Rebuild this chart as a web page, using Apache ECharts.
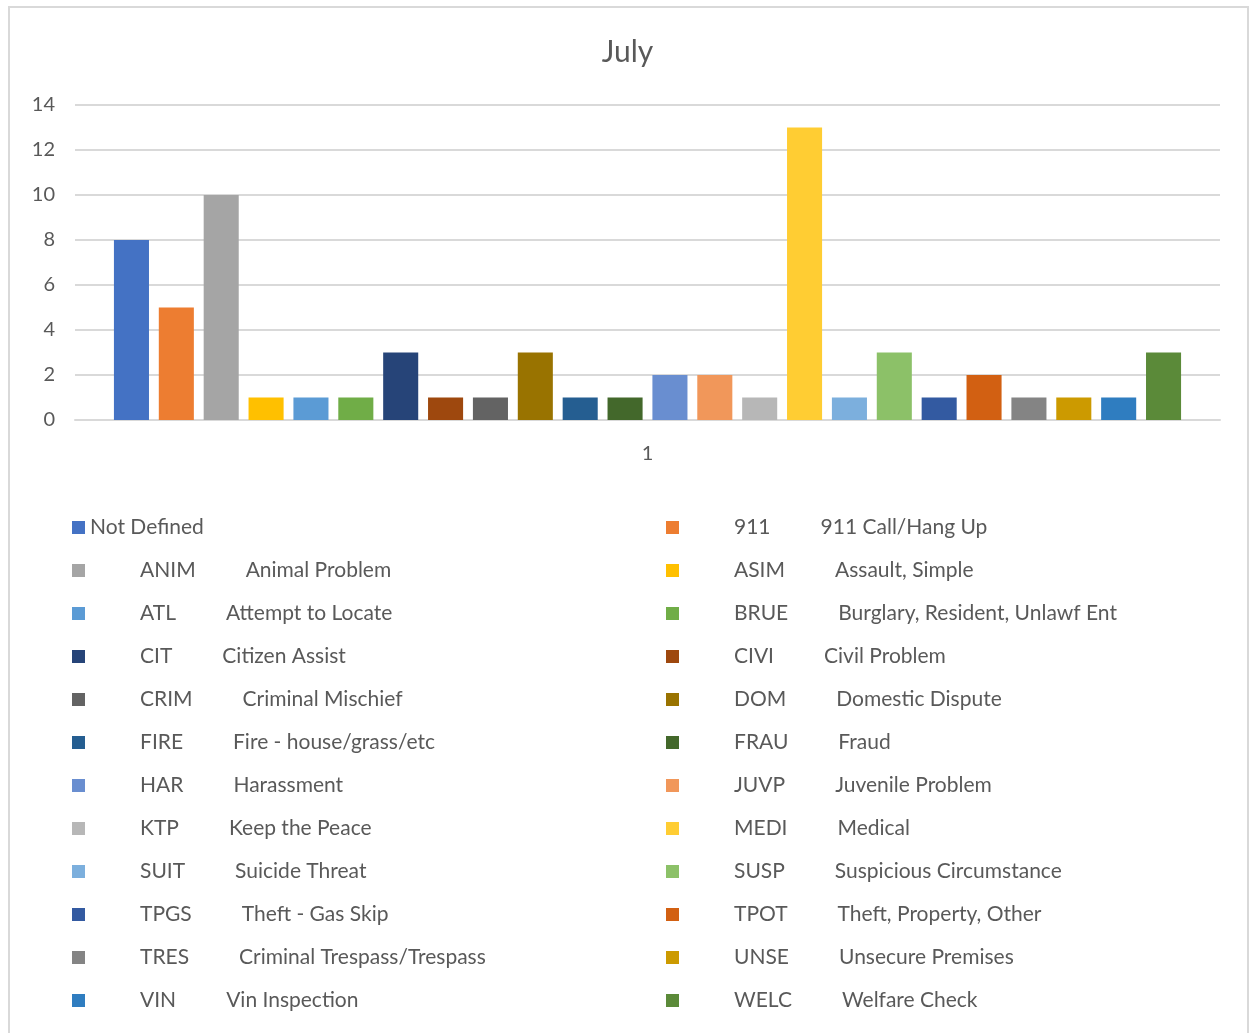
<!DOCTYPE html>
<html>
<head>
<meta charset="utf-8">
<script src="https://cdn.jsdelivr.net/npm/echarts@6/dist/echarts.min.js"></script>
<style>
  html, body { margin: 0; padding: 0; background: #fff; }
  #chart { width: 1255px; height: 1033px; }
</style>
</head>
<body>
<div id="chart"></div>
<script>
const categories = ['1'];
const codes = ['', '911', 'ANIM', 'ASIM', 'ATL', 'BRUE', 'CIT', 'CIVI', 'CRIM', 'DOM', 'FIRE', 'FRAU',
  'HAR', 'JUVP', 'KTP', 'MEDI', 'SUIT', 'SUSP', 'TPGS', 'TPOT', 'TRES', 'UNSE', 'VIN', 'WELC'];
const descriptions = ['Not Defined', '911 Call/Hang Up', 'Animal Problem', 'Assault, Simple', 'Attempt to Locate',
  'Burglary, Resident, Unlawf Ent', 'Citizen Assist', 'Civil Problem', 'Criminal Mischief', 'Domestic Dispute',
  'Fire - house/grass/etc', 'Fraud', 'Harassment', 'Juvenile Problem', 'Keep the Peace', 'Medical',
  'Suicide Threat', 'Suspicious Circumstance', 'Theft - Gas Skip', 'Theft, Property, Other',
  'Criminal Trespass/Trespass', 'Unsecure Premises', 'Vin Inspection', 'Welfare Check'];
const values = [8, 5, 10, 1, 1, 1, 3, 1, 1, 3, 1, 1, 2, 2, 1, 13, 1, 3, 1, 2, 1, 1, 1, 3];
const colors = ['#4472C4', '#ED7D31', '#A5A5A5', '#FFC000', '#5B9BD5', '#70AD47', '#264478', '#9E480E',
  '#636363', '#997300', '#255E91', '#43682B', '#698ED0', '#F1975A', '#B7B7B7', '#FFCD33', '#7CAFDD',
  '#8CC168', '#335AA1', '#D26012', '#848484', '#CC9A00', '#2F7DC0', '#5B8A39'];
const yTicks = [0, 2, 4, 6, 8, 10, 12, 14];

const FONT = 'Lato';
const names = codes.map((c, i) => c ? c + ' ' + descriptions[i] : descriptions[i]);

const series = names.map((n, i) => ({
  name: n,
  type: 'bar',
  data: [values[i]],
  itemStyle: { color: colors[i] },
  barGap: '28%',
  barCategoryGap: '6.8%'
}));

const legendFormatter = name => {
  const i = names.indexOf(name);
  return codes[i] ? '{c|' + codes[i] + '}{d|' + descriptions[i] + '}' : '{d|' + descriptions[i] + '}';
};

const legendBase = {
  orient: 'vertical',
  top: 517,
  padding: 0,
  icon: 'rect',
  itemWidth: 13,
  itemHeight: 13,
  itemGap: 22,
  selectedMode: false,
  formatter: legendFormatter,
  textStyle: {
    fontFamily: FONT,
    fontSize: 21,
    color: '#595959',
    lineHeight: 20,
    rich: {
      c: { fontFamily: FONT, fontSize: 21, color: '#595959', padding: [0, 50, 0, 50] },
      d: { fontFamily: FONT, fontSize: 21, color: '#595959' }
    }
  }
};

const chart = echarts.init(document.getElementById('chart'));
chart.setOption({
  animation: false,
  backgroundColor: '#fff',
  color: colors,
  title: {
    text: 'July',
    left: 'center',
    top: 32,
    textStyle: { fontFamily: FONT, fontSize: 30, fontWeight: 'normal', color: '#595959' }
  },
  graphic: [{
    type: 'rect',
    shape: { x: 9, y: 7, width: 1239, height: 1030 },
    style: { fill: 'none', stroke: '#d9d9d9', lineWidth: 2 },
    silent: true
  }],
  grid: { left: 75, right: 35, top: 105, bottom: 613 },
  xAxis: {
    type: 'category',
    data: categories,
    axisLine: { lineStyle: { color: '#d9d9d9', width: 2 } },
    axisTick: { show: false },
    axisLabel: { fontFamily: FONT, fontSize: 20, color: '#595959', margin: 24 }
  },
  yAxis: {
    type: 'value',
    min: yTicks[0],
    max: yTicks[yTicks.length - 1],
    interval: 2,
    axisLine: { show: false },
    axisTick: { show: false },
    splitLine: { lineStyle: { color: '#d9d9d9', width: 2 } },
    axisLabel: { fontFamily: FONT, fontSize: 20, color: '#595959', margin: 20 }
  },
  legend: [
    Object.assign({}, legendBase, { left: 72, data: names.filter((n, i) => i % 2 === 0) }),
    Object.assign({}, legendBase, { left: 666, data: names.filter((n, i) => i % 2 === 1) })
  ],
  series: series
});
</script>
</body>
</html>
